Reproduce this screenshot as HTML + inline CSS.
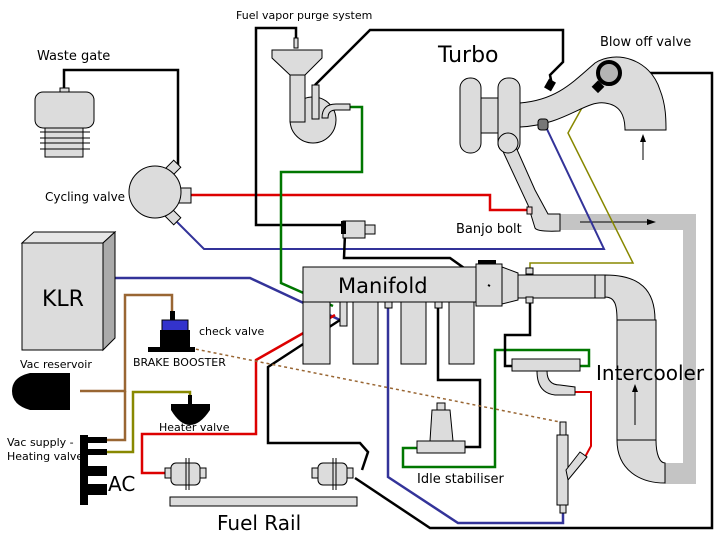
<!DOCTYPE html>
<html><head><meta charset="utf-8"><style>
html,body{margin:0;padding:0;background:#fff}
svg{display:block}
text{font-family:"DejaVu Sans","Liberation Sans",sans-serif;fill:#000}
</style></head><body>
<svg width="720" height="540" viewBox="0 0 720 540" xmlns="http://www.w3.org/2000/svg">
<g fill="none" stroke-width="2.5">
<!-- gray bar top & right -->
</g>
<rect x="560" y="214" width="136" height="16" fill="#c4c4c4"/>
<rect x="683" y="214" width="13" height="270" fill="#c4c4c4"/>
<rect x="665" y="463" width="31" height="21" fill="#c4c4c4"/>
<line x1="580" y1="222" x2="650" y2="222" stroke="#000" stroke-width="1"/>
<polygon points="656,222 647,219 647,225" fill="#000"/>

<!-- connectors -->
<g fill="none" stroke-width="2.5" stroke-linejoin="miter">
<polyline points="64,88 64,70 178,70 178,168" stroke="#000"/>
<polyline points="191,195 490,195 490,210 530,210" stroke="#d00"/>
<polyline points="177,222 204,249 604,249 545,125" stroke="#339" stroke-width="2"/>
<polyline points="296,38 296,28 256,28 256,225 343,225" stroke="#000"/>
<polyline points="315,85 370,30 563,30 563,62 550,75 552,85" stroke="#000"/>
<polyline points="350,107 362,107 362,172 281,172 281,283 333,306" stroke="#070"/>
<polyline points="115,278 250,278 340,320" stroke="#339"/>
<polyline points="345,234 344,258 450,258 488,285" stroke="#000"/>
<polyline points="388,305 388,477 458,523 563,523 563,510" stroke="#339"/>
<polyline points="438,305 438,380 480,380 480,447 465,447" stroke="#000"/>
<polyline points="417,448 403,448 403,467 495,467 495,350 589,350 589,366 579,366" stroke="#070"/>
<polyline points="530,298 530,335 505,335 505,366 512,366" stroke="#000"/>
<polyline points="575,392 591,392 591,446 585,457" stroke="#d00" stroke-width="2"/>
<polyline points="593,88 568,133 633,263 530,263 530,272" stroke="#880" stroke-width="1.5"/>
<polyline points="612,73 712,73 712,528 430,528 355,478" stroke="#000"/>
<polyline points="340,320 268,367 268,443 360,443 368,452 362,470" stroke="#000"/>
<polyline points="165,473 142,473 142,434 256,434 256,360 335,315" stroke="#d00"/>
<polyline points="80,391 125,391 125,295 172,295 172,312" stroke="#963"/>
<polyline points="125,391 125,440 107,440" stroke="#963"/>
<polyline points="190,398 190,392 133,392 133,452 107,452" stroke="#880"/>
<line x1="190" y1="348" x2="560" y2="422" stroke="#963" stroke-width="1.5" stroke-dasharray="3,3"/>
</g>

<!-- Waste gate -->
<g fill="#dcdcdc" stroke="#000" stroke-width="1">
<rect x="60" y="88" width="9" height="5"/>
<rect x="35" y="92" width="59" height="36" rx="8"/>
<rect x="45" y="128" width="38" height="29"/>
<line x1="40" y1="132" x2="90" y2="132"/><line x1="40" y1="138" x2="90" y2="138"/>
<line x1="40" y1="143" x2="90" y2="143"/><line x1="40" y1="149" x2="90" y2="149"/>
<!-- cycling valve -->
<rect x="167" y="163" width="12" height="10" transform="rotate(-45 173 168)"/>
<rect x="167" y="212" width="12" height="10" transform="rotate(45 173 217)"/>
<rect x="179" y="188" width="12" height="15"/>
<circle cx="155" cy="192" r="26"/>
<!-- purge -->
<rect x="294" y="38" width="4" height="10"/>
<polygon points="272,50 322,50 322,58 305,75 290,75 272,58"/>
<circle cx="313" cy="120" r="23"/>
<rect x="290" y="75" width="15" height="47"/>
<rect x="312" y="85" width="7" height="34"/>
<path d="M322,118 Q322,104 336,104 L350,104 L350,110 L336,110 Q328,110 328,118 Z"/>
<!-- small valve -->
<rect x="343" y="221" width="22" height="17"/>
<rect x="365" y="225" width="10" height="9"/>
</g>
<rect x="341" y="221" width="5" height="13" fill="#000"/>

<!-- KLR -->
<g stroke="#000" stroke-width="1">
<polygon points="22,243 34,232 115,232 103,243" fill="#e6e6e6"/>
<polygon points="103,243 115,232 115,338 103,350" fill="#aaa"/>
<rect x="22" y="243" width="81" height="107" fill="#dcdcdc"/>
</g>

<!-- Turbo -->
<g fill="#dcdcdc" stroke="#000" stroke-width="1">
<path d="M520,103 C555,100 570,85 595,63 C615,50 650,58 660,90 C666,105 666,120 666,130 L625,130 C625,115 620,105 605,103 C585,100 565,125 520,127 Z"/>
<rect x="481" y="98" width="19" height="35"/>
<rect x="460" y="78" width="21" height="75" rx="10"/>
<rect x="498" y="78" width="22" height="75" rx="10"/>
<path d="M500,145 L528,205 L535,228 Q537,232 560,231 L560,214 L548,214 L535,190 L515,145 Z"/>
<circle cx="508" cy="143" r="10"/>
<rect x="527" y="207" width="5" height="7" fill="#f0d0d0"/>
</g>
<circle cx="609" cy="73" r="11" fill="#b4b4b4" stroke="#000" stroke-width="4"/>
<rect x="594" y="82" width="9" height="9" fill="#000" transform="rotate(45 598 86)"/>
<rect x="546" y="80" width="8" height="10" fill="#000" transform="rotate(30 550 85)"/>
<rect x="538" y="119" width="10" height="11" rx="3" fill="#777" stroke="#000"/>
<line x1="643" y1="160" x2="643" y2="140" stroke="#000"/>
<polygon points="643,134 640,142 646,142" fill="#000"/>

<!-- Manifold -->
<g fill="#dcdcdc" stroke="#000" stroke-width="1">
<rect x="303" y="302" width="27" height="62"/>
<rect x="353" y="302" width="25" height="62"/>
<rect x="401" y="302" width="25" height="62"/>
<rect x="449" y="302" width="25" height="62"/>
<rect x="303" y="267" width="180" height="35"/>
<rect x="476" y="264" width="26" height="42"/>
<polygon points="502,267 518,273 518,300 502,304"/>
<rect x="518" y="275" width="80" height="23"/>
<rect x="595" y="275" width="10" height="23"/>
<path d="M605,275 C640,275 655,290 655,320 L617,320 C617,305 615,297 605,297 Z"/>
<rect x="617" y="320" width="39" height="120"/>
<path d="M617,440 L656,440 C656,455 660,463 665,463 L665,483 C640,483 617,470 617,440 Z"/>
<rect x="340" y="302" width="7" height="24"/>
<rect x="385" y="302" width="7" height="6"/>
<rect x="435" y="302" width="7" height="6"/>
<rect x="526" y="268" width="7" height="6"/>
<rect x="526" y="297" width="7" height="6"/>
<!-- valve near intercooler -->
<rect x="512" y="359" width="68" height="12"/>
<path d="M537,371 L547,371 Q547,385 560,385 L575,387 L575,395 L555,395 Q537,393 537,371 Z"/>
<!-- injector -->
<rect x="560" y="422" width="6" height="13"/>
<rect x="557" y="435" width="11" height="70"/>
<polygon points="566,470 580,452 587,457 568,480"/>
<rect x="560" y="505" width="6" height="8"/>
<!-- idle stabiliser -->
<rect x="437" y="403" width="8" height="7"/>
<polygon points="432,410 450,410 453,441 430,441"/>
<rect x="417" y="441" width="48" height="12"/>
<!-- fuel injectors -->
<rect x="165" y="468" width="6" height="10"/><rect x="200" y="468" width="6" height="10"/>
<rect x="171" y="463" width="29" height="22" rx="5"/>
<rect x="312" y="468" width="6" height="10"/><rect x="347" y="468" width="6" height="10"/>
<rect x="318" y="463" width="29" height="22" rx="5"/>
<rect x="170" y="497" width="187" height="9"/>
</g>
<line x1="186" y1="458" x2="186" y2="490" stroke="#000"/><line x1="189" y1="458" x2="189" y2="490" stroke="#000"/>
<line x1="333" y1="458" x2="333" y2="490" stroke="#000"/><line x1="336" y1="458" x2="336" y2="490" stroke="#000"/>
<rect x="478" y="260" width="18" height="4" fill="#000"/>
<line x1="488" y1="285" x2="490" y2="286" stroke="#000" stroke-width="2"/>
<line x1="635" y1="425" x2="635" y2="390" stroke="#000"/>
<polygon points="635,384 632,392 638,392" fill="#000"/>

<!-- brake booster, reservoir, heater, AC -->
<rect x="170" y="311" width="5" height="10" fill="#000"/>
<rect x="162" y="320" width="26" height="13" fill="#33c" stroke="#000"/>
<rect x="160" y="330" width="30" height="18" fill="#000"/>
<rect x="148" y="347" width="47" height="5" fill="#000"/>
<path d="M30,373 L70,373 L70,410 L30,410 Q12,405 12,391 Q12,377 30,373 Z" fill="#000"/>
<path d="M171,404 L210,404 L210,410 Q200,425 190,425 Q180,425 171,410 Z" fill="#000"/>
<rect x="188" y="395" width="4" height="10" fill="#000"/>
<rect x="80" y="435" width="8" height="70" fill="#000"/>
<rect x="88" y="437" width="19" height="6" fill="#000"/>
<rect x="88" y="449" width="19" height="6" fill="#000"/>
<rect x="88" y="466" width="19" height="10" fill="#000"/>
<rect x="88" y="484" width="19" height="11" fill="#000"/>

<!-- text -->
<text x="236" y="19" font-size="11">Fuel vapor purge system</text>
<text x="37" y="60" font-size="13">Waste gate</text>
<text x="45" y="201" font-size="12">Cycling valve</text>
<text x="438" y="62" font-size="22">Turbo</text>
<text x="600" y="46" font-size="13">Blow off valve</text>
<text x="456" y="233" font-size="13">Banjo bolt</text>
<text x="42" y="306" font-size="22">KLR</text>
<text x="338" y="293" font-size="21">Manifold</text>
<text x="199" y="335" font-size="11">check valve</text>
<text x="133" y="366" font-size="11">BRAKE BOOSTER</text>
<text x="20" y="368" font-size="11">Vac reservoir</text>
<text x="159" y="431" font-size="11">Heater valve</text>
<text x="7" y="446" font-size="11">Vac supply -</text>
<text x="7" y="460" font-size="11">Heating valve</text>
<text x="108" y="491" font-size="20">AC</text>
<text x="596" y="380" font-size="20">Intercooler</text>
<text x="417" y="483" font-size="13">Idle stabiliser</text>
<text x="217" y="530" font-size="20">Fuel Rail</text>
</svg>
</body></html>
